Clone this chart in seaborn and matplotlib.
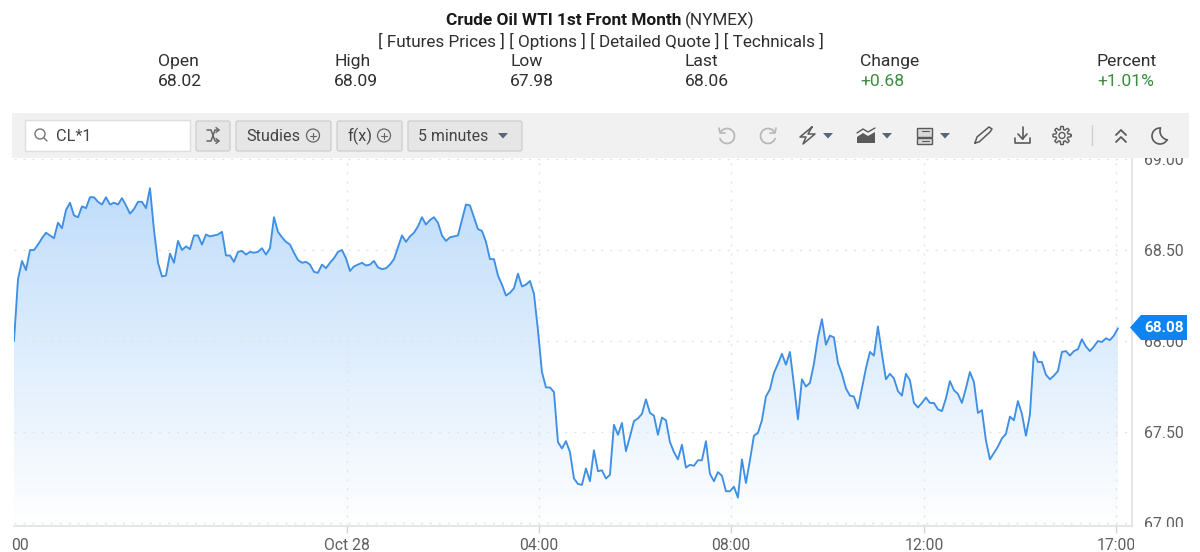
import numpy as np
import pandas as pd
import matplotlib
matplotlib.use("Agg")
import matplotlib.pyplot as plt
from matplotlib.colors import LinearSegmentedColormap
from matplotlib.patches import Rectangle, Polygon, Circle, FancyBboxPatch
import seaborn as sns

# 5 minute closes
prices = [
    68.00, 68.34, 68.44, 68.39, 68.50, 68.50, 68.53, 68.565, 68.595, 68.58,
    68.565, 68.65, 68.62, 68.72, 68.76, 68.69, 68.68, 68.74, 68.73, 68.79,
    68.79, 68.765, 68.75, 68.79, 68.75, 68.76, 68.75, 68.785, 68.745, 68.70,
    68.725, 68.765, 68.765, 68.73, 68.84, 68.61, 68.43, 68.355, 68.36, 68.48,
    68.43, 68.55, 68.50, 68.52, 68.505, 68.58, 68.58, 68.53, 68.585, 68.575,
    68.58, 68.585, 68.60, 68.47, 68.47, 68.435, 68.49, 68.495, 68.475, 68.49,
    68.485, 68.49, 68.51, 68.475, 68.51, 68.68, 68.60, 68.57, 68.545, 68.53,
    68.485, 68.445, 68.43, 68.435, 68.42, 68.38, 68.375, 68.42, 68.40, 68.43,
    68.455, 68.49, 68.50, 68.455, 68.385, 68.41, 68.42, 68.43, 68.415, 68.42,
    68.44, 68.405, 68.395, 68.40, 68.42, 68.45, 68.515, 68.58, 68.545, 68.575,
    68.595, 68.63, 68.68, 68.64, 68.665, 68.68, 68.65, 68.58, 68.55, 68.57,
    68.575, 68.58, 68.665, 68.75, 68.745, 68.68, 68.615, 68.605, 68.545, 68.45,
    68.45, 68.36, 68.31, 68.25, 68.265, 68.29, 68.37, 68.30, 68.31, 68.33,
    68.26, 68.06, 67.83, 67.745, 67.745, 67.72, 67.445, 67.41, 67.45, 67.39,
    67.245, 67.215, 67.21, 67.30, 67.23, 67.40, 67.285, 67.29, 67.245, 67.265,
    67.54, 67.485, 67.55, 67.395, 67.475, 67.56, 67.575, 67.60, 67.68, 67.605,
    67.59, 67.485, 67.58, 67.565, 67.445, 67.39, 67.35, 67.43, 67.305, 67.32,
    67.315, 67.345, 67.345, 67.45, 67.27, 67.23, 67.28, 67.26, 67.175, 67.175,
    67.20, 67.14, 67.35, 67.22, 67.345, 67.48, 67.495, 67.565, 67.695, 67.735,
    67.825, 67.875, 67.93, 67.87, 67.94, 67.76, 67.57, 67.79, 67.75, 67.77,
    67.875, 68.02, 68.12, 67.98, 68.03, 68.02, 67.88, 67.82, 67.74, 67.70,
    67.695, 67.63, 67.74, 67.85, 67.94, 67.92, 68.08, 67.93, 67.79, 67.82,
    67.795, 67.725, 67.70, 67.82, 67.785, 67.66, 67.635, 67.66, 67.69, 67.66,
    67.66, 67.625, 67.615, 67.685, 67.78, 67.73, 67.71, 67.66, 67.74, 67.83,
    67.775, 67.605, 67.62, 67.455, 67.35, 67.385, 67.42, 67.465, 67.49, 67.585,
    67.565, 67.67, 67.60, 67.48, 67.595, 67.94, 67.885, 67.885, 67.815, 67.79,
    67.81, 67.835, 67.94, 67.945, 67.92, 67.945, 67.955, 68.01, 67.97, 67.945,
    67.97, 68.00, 67.995, 68.015, 68.005, 68.03, 68.07,
]
y_ticks = [67.0, 67.5, 68.0, 68.5, 69.0]
x_tick_bars = [1.5, 83.25, 131.25, 179.25, 227.5, 275.5]
x_tick_labels = ["00", "Oct 28", "04:00", "08:00", "12:00", "17:00"]
quote_heads = ["Open", "High", "Low", "Last", "Change", "Percent"]
quote_values = ["68.02", "68.09", "67.98", "68.06", "+0.68", "+1.01%"]
last_tag = "68.08"

W, H = 1200, 552
LINE = "#3f8fe4"
GREY = "#5f5f5f"
DARK = "#2f2f2f"
GREEN = "#3b8c3f"
ICON = "#5a5a5a"
FADED = "#b8b8b8"

sns.set_theme(style="white")
plt.rcParams["font.family"] = ["Roboto", "DejaVu Sans"]

df = pd.DataFrame({"bar": np.arange(len(prices)), "price": prices})

fig = plt.figure(figsize=(W / 100, H / 100), dpi=100, facecolor="white")
ax = fig.add_axes([14 / W, 1 - 526 / H, (1131.5 - 14) / W, (526 - 157) / H])

# gradient under the line
fill = ax.fill_between(df["bar"], df["price"], 66.9, color="none", lw=0)
cmap = LinearSegmentedColormap.from_list("area", ["#ffffff", "#c0ddfb"])
grad = np.linspace(1, 0, 256).reshape(-1, 1)
img = ax.imshow(grad, extent=(0, 280, 66.984, 68.83), cmap=cmap, vmin=0, vmax=1,
                aspect="auto", zorder=1)
img.set_clip_path(fill.get_paths()[0], ax.transData)

sns.lineplot(data=df, x="bar", y="price", ax=ax, color=LINE, lw=1.35, zorder=3)

ax.set_xlim(0, 279.4)
ax.set_ylim(66.984, 69.011)
ax.set_xlabel("")
ax.set_ylabel("")
ax.set_yticks(y_ticks)
ax.set_yticklabels([f"{v:.2f}" for v in y_ticks])
ax.set_xticks(x_tick_bars)
ax.set_xticklabels(x_tick_labels)
ax.yaxis.tick_right()
ax.tick_params(axis="y", length=0, pad=9, labelsize=11.4, labelcolor=GREY)
ax.tick_params(axis="x", bottom=True, length=5, width=1, color="#d4d4d4", pad=4,
               labelsize=11.3, labelcolor=GREY)
ax.grid(True, color="#e3e3e3", lw=1, linestyle=(0, (1.5, 5)))
ax.set_axisbelow(False)
first = ax.xaxis.get_major_ticks()[0]
first.tick1line.set_visible(False)
first.gridline.set_visible(False)
for side in ["top", "left"]:
    ax.spines[side].set_visible(False)
for side in ["right", "bottom"]:
    ax.spines[side].set_color("#e0e0e0")
    ax.spines[side].set_linewidth(1.2)

# page furniture above the chart, in pixels
ui = fig.add_axes([0, 0, 1, 1], zorder=5)
ui.set_xlim(0, W)
ui.set_ylim(H, 0)
ui.axis("off")
ui.patch.set_alpha(0)

# 67.00 is cut off at the bottom of the price scale in the original
ui.add_patch(Rectangle((1134, 526.5), 66, 26, fc="white", ec="none"))

ui.text(681, 20.5, "Crude Oil WTI 1st Front Month", ha="right", va="center",
        fontsize=12.4, fontweight="bold", color="#1a1a1a")
ui.text(685, 20.5, "(NYMEX)", ha="left", va="center", fontsize=12.3, color=DARK)
ui.text(601, 41, "[ Futures Prices ] [ Options ] [ Detailed Quote ] [ Technicals ]",
        ha="center", va="center", fontsize=12.35, color=DARK)

quote_x = [158, 334, 510, 685, 860, 1097]
for x, head, val in zip(quote_x, quote_heads, quote_values):
    ui.text(x, 61.5, head, ha="left", va="center", fontsize=12.6, color=DARK)
    col = GREEN if val[0] == "+" else DARK
    ui.text(x, 82, val, ha="left", va="center", fontsize=12.6, color=col)

# toolbar
ui.add_patch(Rectangle((12, 113), 1177, 44.5, fc="#f1f1f1", ec="none"))
ui.add_patch(Rectangle((25, 120), 165, 31, fc="white", ec="#dddddd", lw=1))
ui.add_patch(Circle((40, 134), 5, fc="none", ec="#777777", lw=1))
ui.plot([43.5, 47], [137.5, 141], color="#777777", lw=1)
ui.text(56, 136.5, "CL*1", ha="left", va="center", fontsize=11.7, color="#444444")


def button(x0, x1):
    ui.add_patch(FancyBboxPatch((x0, 121), x1 - x0, 30, boxstyle="round,pad=0,rounding_size=2",
                                fc="#e6e6e6", ec="#d0d0d0", lw=1))


def plus_circle(x, y):
    ui.add_patch(Circle((x, y), 6.5, fc="none", ec="#666666", lw=0.9))
    ui.plot([x - 3, x + 3], [y, y], color="#666666", lw=0.8)
    ui.plot([x, x], [y - 3, y + 3], color="#666666", lw=0.8)


def arrow_down(x, y=135.5, col="#54677f"):
    ui.add_patch(Polygon([(x - 5, y - 2.5), (x + 5, y - 2.5), (x, y + 3)], fc=col, ec="none"))


def arc(cx, cy, r, start, stop, col=ICON, lw=1.1):
    t = np.radians(np.linspace(start, stop, 40))
    ui.plot(cx + r * np.cos(t), cy + r * np.sin(t), color=col, lw=lw)


button(196, 230)
ui.plot([207, 211, 215, 219], [130, 130, 141, 141], color="#666666", lw=1.1)
ui.plot([207, 211, 215, 219], [141, 141, 130, 130], color="#666666", lw=1.1)
ui.plot([216, 219, 216], [127.5, 130, 132.5], color="#666666", lw=1)
ui.plot([216, 219, 216], [138.5, 141, 143.5], color="#666666", lw=1)
button(236, 331)
ui.text(246, 136.5, "Studies", ha="left", va="center", fontsize=11.7, color="#444444")
plus_circle(313, 135.5)
button(337, 402)
ui.text(347, 136.5, "f(x)", ha="left", va="center", fontsize=11.7, color="#444444")
plus_circle(384, 135.5)
button(408, 522)
ui.text(418, 136.5, "5 minutes", ha="left", va="center", fontsize=11.4, color="#444444")
arrow_down(503)

# right hand icons
arc(727, 136, 7.5, -150, 160, FADED, 1.3)
ui.plot([719, 720, 725], [128, 133, 133], color=FADED, lw=1.2)
arc(768, 136, 7.5, 20, 330, FADED, 1.3)
ui.plot([776, 775, 770], [128, 133, 133], color=FADED, lw=1.2)
ui.plot([812, 800, 806, 803, 815, 808, 812], [127, 137, 137, 144, 134, 134, 127], color=ICON, lw=1.1)
arrow_down(828)
ui.add_patch(Polygon([(857, 143), (857, 137), (863, 133), (868, 136), (875, 132), (875, 143)],
                     fc=ICON, ec="none"))
ui.plot([857, 863, 868, 875], [133, 129, 132, 128], color=ICON, lw=1)
arrow_down(887)
ui.add_patch(Rectangle((917, 127.5), 15, 9, fc="#d8d8d8", ec=ICON, lw=1))
ui.add_patch(Rectangle((917, 138), 15, 6, fc="#d8d8d8", ec=ICON, lw=1))
ui.plot([922, 929], [131, 131], color=ICON, lw=0.8)
ui.plot([922, 929], [141, 141], color=ICON, lw=0.8)
arrow_down(945)
ui.plot([975, 977, 989, 992, 990, 979, 975], [143, 137, 127, 129, 132, 142, 143], color=ICON, lw=1.1)
ui.plot([1015, 1015, 1030, 1030], [138, 143, 143, 138], color=ICON, lw=1.2)
ui.plot([1022.5, 1022.5], [127, 139], color=ICON, lw=1.2)
ui.plot([1018, 1022.5, 1027], [134, 139, 134], color=ICON, lw=1.2)
t = np.linspace(0, 2 * np.pi, 241)
gear_r = 7.6 + 1.5 * np.clip(2.5 * np.cos(8 * t), -1, 1)
ui.plot(1062 + gear_r * np.cos(t), 135.5 + gear_r * np.sin(t), color=ICON, lw=1)
ui.add_patch(Circle((1062, 135.5), 3, fc="none", ec=ICON, lw=1))
ui.plot([1092, 1092], [125, 145], color="#cfcfcf", lw=1)
ui.plot([1116, 1121, 1126], [135, 130, 135], color=ICON, lw=1.3)
ui.plot([1116, 1121, 1126], [142, 137, 142], color=ICON, lw=1.3)
# crescent, outer arc then inner arc
arc(1160, 136, 8, 30, 270, ICON, 1.2)
arc(1169, 131, 9, 100, 200, ICON, 1.2)

# last price tag
ui.add_patch(Polygon([(1130, 327.5), (1141, 315), (1187, 315), (1187, 340), (1141, 340)],
                     fc="#0d84f2", ec="none"))
ui.text(1144, 327.5, last_tag, ha="left", va="center", fontsize=11, fontweight="bold", color="white")

fig.savefig("out.png", dpi=100)
